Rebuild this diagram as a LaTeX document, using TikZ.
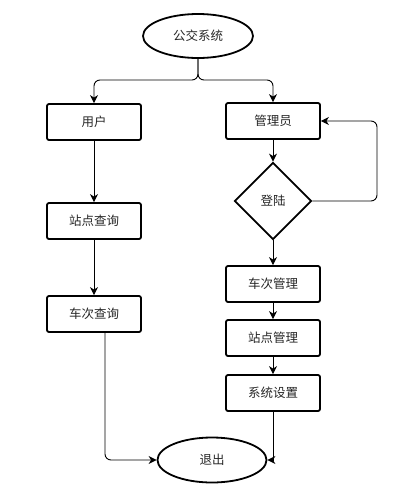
\documentclass[tikz,border=0pt]{standalone}
\usepackage{fontspec}
\setmainfont{Noto Sans CJK SC}
\usetikzlibrary{shapes.geometric,arrows.meta,calc}
\begin{document}
\begin{tikzpicture}[x=1pt,y=-1pt,
  every node/.style={font=\fontsize{12.5}{14}\selectfont, text=black!85},
  procbox/.style={draw, line width=1.8pt, rounded corners=2pt, minimum width=94pt, minimum height=36pt, inner sep=0pt},
  term/.style={draw, ellipse, line width=1.8pt, minimum width=110pt, minimum height=44pt, inner sep=0pt},
  decide/.style={draw, diamond, aspect=1, line width=1.8pt, minimum width=77pt, minimum height=77pt, inner sep=0pt},
  conn/.style={draw, line width=0.9pt, rounded corners=6pt, -{Stealth[length=8pt,width=8pt,inset=2.5pt]}}
]
\useasboundingbox (0,0) rectangle (420,490);
\node[term] (top) at (198,36) {公交系统};
\node[procbox] (user) at (94,122) {用户};
\node[procbox] (sq) at (94,221) {站点查询};
\node[procbox] (cq) at (94,314) {车次查询};
\node[procbox] (admin) at (273,121) {管理员};
\node[decide] (login) at (273,201) {登陆};
\node[procbox] (cm) at (273,284) {车次管理};
\node[procbox] (sm) at (273,338) {站点管理};
\node[procbox] (sys) at (273,393) {系统设置};
\node[term, minimum width=109pt, minimum height=45pt] (exit) at (212,460) {退出};
\coordinate (split) at (198,80);
\coordinate (loopc) at (377,201);
\coordinate (cqout) at (105,332);
\coordinate (sysout) at (273,411);
\draw[conn] (top.south) -- (split) -| (user.north);
\draw[conn] (top.south) -- (split) -| (admin.north);
\draw[conn] (user) -- (sq);
\draw[conn] (sq) -- (cq);
\draw[conn] (admin) -- (login);
\draw[conn] (login.east) -- (loopc) |- (admin.east);
\draw[conn] (login) -- (cm);
\draw[conn] (cm) -- (sm);
\draw[conn] (sm) -- (sys);
\draw[conn] (cqout) |- (exit.west);
\draw[conn, rounded corners=0pt] (sysout) |- (exit.east);
\end{tikzpicture}
\end{document}
